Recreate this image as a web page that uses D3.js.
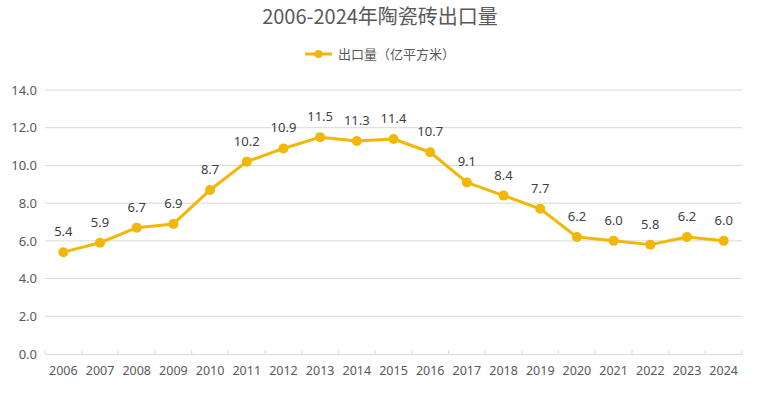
<!DOCTYPE html>
<html>
<head>
<meta charset="utf-8">
<script src="https://cdn.jsdelivr.net/npm/d3@7"></script>
<style>
  body { margin: 0; background: #fff; }
  svg text { font-family: "Noto Sans", "Noto Sans CJK SC", sans-serif; }
</style>
</head>
<body>
<svg id="chart"></svg>
<script>
// chart data
var years = ['2006', '2007', '2008', '2009', '2010', '2011', '2012', '2013', '2014', '2015',
  '2016', '2017', '2018', '2019', '2020', '2021', '2022', '2023', '2024']
var exports = [5.4, 5.9, 6.7, 6.9, 8.7, 10.2, 10.9, 11.5, 11.3, 11.4, 10.7, 9.1, 8.4, 7.7, 6.2, 6.0, 5.8, 6.2, 6.0]
var yTicks = [0, 2, 4, 6, 8, 10, 12, 14]
var title = '2006-2024年陶瓷砖出口量'
var seriesName = '出口量（亿平方米）'

var lineColor = '#F2B705'
var fullWidth = 760
var fullHeight = 393
var margin = {top: 90, right: 18, bottom: 39, left: 45}
var width = fullWidth - margin.left - margin.right
var height = fullHeight - margin.top - margin.bottom

var svg = d3.select('#chart')
    .attr('width', fullWidth)
    .attr('height', fullHeight)

// title
svg.append('text')
    .attr('x', fullWidth / 2)
    .attr('y', 24)
    .attr('text-anchor', 'middle')
    .attr('fill', '#595959')
    .style('font-size', '20px')
    .style('font-family', '"Noto Sans CJK SC", sans-serif')
    .text(title)

// legend
var legend = svg.append('g').attr('transform', 'translate(305,54)')
legend.append('line')
    .attr('x1', 0).attr('x2', 27)
    .attr('stroke', lineColor).attr('stroke-width', 3)
legend.append('circle')
    .attr('cx', 13.5).attr('r', 4)
    .attr('fill', lineColor)
legend.append('text')
    .attr('x', 33)
    .attr('dy', '0.35em')
    .attr('fill', '#595959')
    .style('font-size', '13px')
    .style('font-family', '"Noto Sans CJK SC", sans-serif')
    .text(seriesName)

var g = svg.append('g')
    .attr('transform', 'translate(' + margin.left + ',' + margin.top + ')')

// scales
var x = d3.scaleBand()
    .domain(years)
    .range([0, width])

var y = d3.scaleLinear()
    .domain([0, 14])
    .range([height, 0])

// gridlines
g.selectAll('.grid')
    .data(yTicks.filter(function (d) { return d > 0 }))
  .enter().append('line')
    .attr('class', 'grid')
    .attr('x1', 0)
    .attr('x2', width)
    .attr('y1', function (d) { return y(d) })
    .attr('y2', function (d) { return y(d) })
    .attr('stroke', '#d9d9d9')
    .attr('stroke-width', 1)

// y axis labels
var yAxis = g.append('g')
    .call(d3.axisLeft(y).tickValues(yTicks).tickFormat(d3.format('.1f')).tickSize(0).tickPadding(8))
yAxis.select('.domain').remove()
yAxis.selectAll('text')
    .attr('fill', '#595959')
    .style('font-size', '13px')

// x axis
var xAxis = g.append('g')
    .attr('transform', 'translate(0,' + height + ')')
    .call(d3.axisBottom(x).tickSize(0).tickPadding(12))
xAxis.select('.domain').attr('stroke', '#d9d9d9')
xAxis.selectAll('text')
    .attr('fill', '#595959')
    .style('font-size', '12.5px')

// x tick marks at band edges
g.selectAll('.xtick')
    .data(years.concat(['end']))
  .enter().append('line')
    .attr('class', 'xtick')
    .attr('x1', function (d, i) { return i * x.step() })
    .attr('x2', function (d, i) { return i * x.step() })
    .attr('y1', height)
    .attr('y2', height - 4)
    .attr('stroke', '#d9d9d9')

// line
var line = d3.line()
    .x(function (d, i) { return x(years[i]) + x.bandwidth() / 2 })
    .y(function (d) { return y(d) })

g.append('path')
    .datum(exports)
    .attr('fill', 'none')
    .attr('stroke', lineColor)
    .attr('stroke-width', 3)
    .attr('stroke-linejoin', 'round')
    .attr('d', line)

g.selectAll('.dot')
    .data(exports)
  .enter().append('circle')
    .attr('class', 'dot')
    .attr('cx', function (d, i) { return x(years[i]) + x.bandwidth() / 2 })
    .attr('cy', function (d) { return y(d) })
    .attr('r', 5)
    .attr('fill', lineColor)

// data labels
g.selectAll('.label')
    .data(exports)
  .enter().append('text')
    .attr('class', 'label')
    .attr('x', function (d, i) { return x(years[i]) + x.bandwidth() / 2 })
    .attr('y', function (d) { return y(d) - 16 })
    .attr('text-anchor', 'middle')
    .attr('fill', '#404040')
    .style('font-size', '13px')
    .text(function (d) { return d.toFixed(1) })
</script>
</body>
</html>
